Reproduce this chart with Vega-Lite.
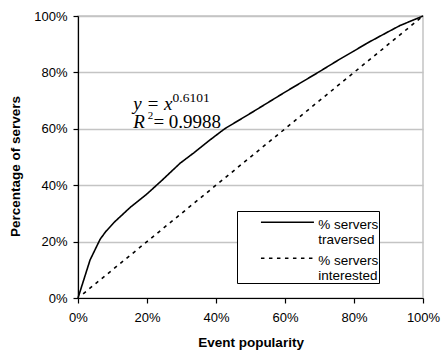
{
  "$schema": "https://vega.github.io/schema/vega-lite/v6.json",
  "width": 345,
  "height": 282,
  "autosize": {"type": "none"},
  "padding": {"left": 78, "top": 16, "right": 18, "bottom": 53},
  "background": "white",
  "config": {
    "font": "Liberation Sans",
    "view": {"stroke": "#c4c4c4", "strokeWidth": 1.5},
    "style": {"guide-label": {"lineHeight": 15.5}},
    "axis": {
      "labelFont": "Liberation Sans",
      "labelFontSize": 13,
      "labelColor": "#000",
      "labelFlush": false,
      "titleFont": "Liberation Sans",
      "titleFontSize": 13.5,
      "titleFontWeight": "bold",
      "titleColor": "#000",
      "domainColor": "#000",
      "domainWidth": 1.2,
      "tickColor": "#000",
      "tickWidth": 1.2,
      "tickSize": 5
    }
  },
  "datasets": {
    "curves": [
      {"series": "traversed", "x": 0.0, "y": 0.0},
      {"series": "traversed", "x": 0.035, "y": 0.135},
      {"series": "traversed", "x": 0.064, "y": 0.208},
      {"series": "traversed", "x": 0.080, "y": 0.235},
      {"series": "traversed", "x": 0.107, "y": 0.271},
      {"series": "traversed", "x": 0.152, "y": 0.322},
      {"series": "traversed", "x": 0.199, "y": 0.368},
      {"series": "traversed", "x": 0.244, "y": 0.418},
      {"series": "traversed", "x": 0.296, "y": 0.478},
      {"series": "traversed", "x": 0.336, "y": 0.515},
      {"series": "traversed", "x": 0.380, "y": 0.558},
      {"series": "traversed", "x": 0.425, "y": 0.600},
      {"series": "traversed", "x": 0.500, "y": 0.655},
      {"series": "traversed", "x": 0.600, "y": 0.730},
      {"series": "traversed", "x": 0.692, "y": 0.797},
      {"series": "traversed", "x": 0.755, "y": 0.844},
      {"series": "traversed", "x": 0.800, "y": 0.876},
      {"series": "traversed", "x": 0.837, "y": 0.903},
      {"series": "traversed", "x": 0.890, "y": 0.938},
      {"series": "traversed", "x": 0.933, "y": 0.966},
      {"series": "traversed", "x": 1.0, "y": 1.0},
      {"series": "interested", "x": 0.015, "y": 0.015},
      {"series": "interested", "x": 1.0, "y": 1.0}
    ],
    "notes": [
      {"part": "main", "text": "y = x", "x": 0.160, "y": 0.667},
      {"part": "sup", "text": "0.6101", "x": 0.274, "y": 0.696},
      {"part": "main", "text": "R", "x": 0.160, "y": 0.602},
      {"part": "sup2", "text": "2", "x": 0.202, "y": 0.633},
      {"part": "rest", "text": "= 0.9988", "x": 0.2185, "y": 0.602}
    ]
  },
  "layer": [
    {
      "data": {"name": "curves"},
      "mark": {"type": "line", "color": "#000", "strokeWidth": 1.6},
      "encoding": {
        "x": {
          "field": "x", "type": "quantitative",
          "scale": {"domain": [0, 1], "nice": false},
          "axis": {"format": ".0%", "values": [0, 0.2, 0.4, 0.6, 0.8, 1], "grid": false, "title": "Event popularity", "labelPadding": 8, "titlePadding": 11}
        },
        "y": {
          "field": "y", "type": "quantitative",
          "scale": {"domain": [0, 1], "nice": false},
          "axis": {"format": ".0%", "values": [0, 0.2, 0.4, 0.6, 0.8, 1], "grid": true, "gridColor": "#c4c4c4", "gridWidth": 1.5, "title": "Percentage of servers", "titleX": -63, "titleY": 150, "titleAlign": "center", "titleBaseline": "middle", "labelPadding": 6}
        },
        "strokeDash": {
          "field": "series", "type": "nominal",
          "scale": {"domain": ["traversed", "interested"], "range": [[1, 0], [3.5, 4.5]]},
          "legend": {
            "title": null,
            "orient": "none",
            "legendX": 159,
            "legendY": 195,
            "fillColor": "white",
            "strokeColor": "#000",
            "padding": 0,
            "symbolType": "M0,4.5H53",
            "symbolSize": 4,
            "symbolOffset": 17.2,
            "symbolStrokeColor": "#000",
            "symbolStrokeWidth": 1.6,
            "symbolFillColor": "transparent",
            "labelFontSize": 13.5,
            "labelFont": "Liberation Sans",
            "labelColor": "#000",
            "labelBaseline": "top",
            "labelOffset": 50.5,
            "rowPadding": -5.5,
            "labelLimit": 300,
            "labelExpr": "datum.label == 'traversed' ? ['% servers           ', 'traversed'] : ['% servers           ', 'interested']"
          }
        }
      }
    },
    {
      "data": {"name": "notes"},
      "transform": [{"filter": "datum.part == 'main'"}],
      "mark": {"type": "text", "font": "Liberation Serif", "fontStyle": "italic", "fontSize": 19, "align": "left", "baseline": "alphabetic", "color": "#000"},
      "encoding": {
        "x": {"field": "x", "type": "quantitative"},
        "y": {"field": "y", "type": "quantitative"},
        "text": {"field": "text"}
      }
    },
    {
      "data": {"name": "notes"},
      "transform": [{"filter": "datum.part == 'sup'"}],
      "mark": {"type": "text", "font": "Liberation Serif", "fontSize": 13.5, "align": "left", "baseline": "alphabetic", "color": "#000"},
      "encoding": {
        "x": {"field": "x", "type": "quantitative"},
        "y": {"field": "y", "type": "quantitative"},
        "text": {"field": "text"}
      }
    },
    {
      "data": {"name": "notes"},
      "transform": [{"filter": "datum.part == 'sup2'"}],
      "mark": {"type": "text", "font": "Liberation Serif", "fontSize": 11, "align": "left", "baseline": "alphabetic", "color": "#000"},
      "encoding": {
        "x": {"field": "x", "type": "quantitative"},
        "y": {"field": "y", "type": "quantitative"},
        "text": {"field": "text"}
      }
    },
    {
      "data": {"name": "notes"},
      "transform": [{"filter": "datum.part == 'rest'"}],
      "mark": {"type": "text", "font": "Liberation Serif", "fontSize": 19, "align": "left", "baseline": "alphabetic", "color": "#000"},
      "encoding": {
        "x": {"field": "x", "type": "quantitative"},
        "y": {"field": "y", "type": "quantitative"},
        "text": {"field": "text"}
      }
    }
  ]
}
